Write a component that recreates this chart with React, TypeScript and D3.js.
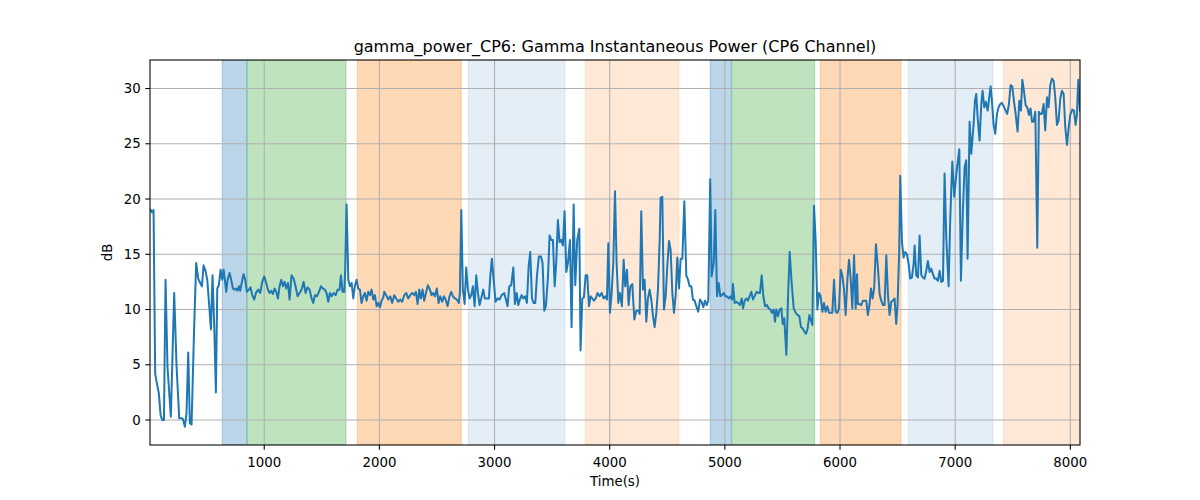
import React from 'react';
import * as d3 from 'd3';

// gamma power samples (seconds, dB)
const timeSec = [
  8, 25, 39, 53, 68, 85, 100, 114, 129, 143, 160, 189, 218, 239, 262, 282, 294, 311, 325, 340, 354, 369, 389, 409, 427, 444, 459, 473, 490, 505, 522, 537, 551, 566, 580, 592, 606, 621, 635, 647, 658, 670, 682, 699, 713, 728, 742, 757, 768, 780, 791, 806, 820, 835, 849, 867, 881, 896, 913, 928, 948, 965, 983, 1000, 1017,
  1032, 1046, 1061, 1075, 1090, 1104, 1119, 1133, 1148, 1162, 1177, 1191, 1206, 1220, 1237, 1255, 1272, 1290, 1307, 1324, 1342, 1359, 1376, 1394, 1411, 1426, 1440, 1457, 1475, 1492, 1510, 1527, 1541, 1556, 1570, 1585, 1602, 1620, 1637, 1654, 1666, 1680, 1695, 1703, 1715, 1730, 1744, 1759, 1773, 1787, 1802, 1816, 1831, 1845, 1860, 1874, 1889, 1903, 1918, 1932, 1947, 1961, 1976, 1990, 2005, 2019, 2034,
  2042, 2059, 2077, 2094, 2111, 2129, 2146, 2164, 2181, 2198, 2216, 2233, 2250, 2268, 2285, 2303, 2317, 2332, 2346, 2360, 2375, 2389, 2404, 2421, 2439, 2453, 2468, 2482, 2499, 2514, 2528, 2546, 2560, 2575, 2592, 2609, 2624, 2638, 2656, 2673, 2690, 2699, 2711, 2725, 2740, 2754, 2769, 2783, 2798, 2812, 2827, 2841, 2856, 2870, 2884, 2902, 2916, 2934, 2951, 2963, 2977, 2992, 3009, 3026, 3044, 3061,
  3084, 3099, 3113, 3128, 3145, 3163, 3177, 3192, 3206, 3220, 3235, 3249, 3267, 3281, 3296, 3310, 3325, 3339, 3354, 3368, 3385, 3403, 3417, 3432, 3446, 3464, 3478, 3493, 3507, 3522, 3536, 3550, 3565, 3579, 3594, 3608, 3623, 3637, 3655, 3669, 3687, 3701, 3718, 3736, 3747, 3762, 3776, 3791, 3805, 3820, 3834, 3849, 3863, 3878, 3895, 3912, 3930, 3947, 3962, 3976, 3988, 4002, 4017, 4031, 4046, 4060, 4075, 4089,
  4106, 4121, 4135, 4150, 4164, 4179, 4196, 4214, 4231, 4248, 4260, 4274, 4289, 4303, 4318, 4332, 4347, 4361, 4376, 4390, 4405, 4419, 4434, 4442, 4457, 4471, 4486, 4500, 4515, 4529, 4544, 4558, 4573, 4587, 4602, 4616, 4631, 4648, 4665, 4680, 4694, 4709, 4723, 4738, 4752, 4769, 4784, 4798, 4813, 4827, 4842, 4856, 4873, 4885, 4903, 4917, 4932, 4946, 4961, 4975, 4990, 5004, 5018, 5033, 5047, 5062, 5070, 5085, 5099, 5114,
  5131, 5146, 5158, 5172, 5186, 5201, 5215, 5230, 5244, 5262, 5276, 5291, 5305, 5320, 5334, 5349, 5366, 5381, 5395, 5409, 5424, 5435, 5447, 5462, 5476, 5491, 5502, 5516, 5534, 5548, 5563, 5580, 5598, 5615, 5632, 5647, 5661, 5676, 5690, 5705, 5719, 5734, 5748, 5760, 5774, 5789, 5803, 5818, 5832, 5847, 5861, 5875, 5890, 5904, 5919, 5933, 5948, 5962, 5977, 5991, 6006, 6020, 6035, 6049, 6064, 6078, 6093, 6107, 6122, 6136,
  6148, 6155, 6170, 6184, 6199, 6213, 6228, 6242, 6257, 6268, 6283, 6297, 6312, 6329, 6344, 6358, 6373, 6387, 6402, 6416, 6430, 6445, 6459, 6474, 6488, 6500, 6514, 6523, 6538, 6552, 6567, 6581, 6596, 6610, 6625, 6639, 6648, 6662, 6677, 6691, 6706, 6720, 6734, 6749, 6763, 6778, 6792, 6807, 6821, 6836, 6850, 6865, 6879, 6894, 6908, 6923, 6943, 6957, 6975, 6992, 7010, 7024, 7036, 7050, 7067, 7082, 7096, 7108, 7125, 7140,
  7160, 7172, 7183, 7195, 7212, 7227, 7238, 7253, 7267, 7282, 7296, 7308, 7319, 7334, 7348, 7363, 7377, 7392, 7406, 7421, 7438, 7452, 7467, 7481, 7496, 7510, 7525, 7542, 7557, 7571, 7583, 7597, 7612, 7626, 7641, 7655, 7667, 7681, 7696, 7713, 7727, 7739, 7753, 7768, 7782, 7797, 7811, 7826, 7840, 7855, 7869, 7884, 7898, 7913, 7927, 7942, 7956, 7971, 7985, 7999, 8017, 8031, 8046, 8057, 8069, 8084,
];

const gammaDb = [
  19.1, 18.8, 19.0, 4.2, 3.3, 2.4, 0.45, 0, 0, 12.7, 4.8, 0.3, 11.5, 4.8, 0.15, 0.15, 0.1, -0.6, 0.6, 6.1, -0.3, -0.4, 7.5, 14.2, 12.8, 12.4, 12.1, 14.0, 13.5, 12.7, 10.4, 8.2, 13.1, 8.4, 2.5, 11.9, 12.2, 13.6, 12.7, 13.6, 12.7, 11.6, 12.7, 13.3, 12.7, 11.9, 11.8, 11.9, 11.7, 12.1, 11.7, 12.5, 13.2, 12.7, 11.6, 11.8, 12.0, 11.3, 10.9, 11.5, 11.8, 11.5, 12.5, 13.0, 12.4,
  11.8, 11.5, 11.7, 11.4, 11.9, 11.6, 11.0, 12.1, 12.7, 12.1, 12.5, 11.9, 12.4, 10.9, 13.1, 12.8, 12.1, 11.2, 11.5, 11.8, 12.5, 11.5, 12.0, 11.8, 11.0, 10.6, 11.3, 11.2, 11.6, 12.1, 11.9, 11.8, 11.5, 10.7, 11.5, 11.2, 11.5, 11.3, 11.8, 11.8, 13.1, 11.6, 11.6, 13.6, 19.5, 12.7, 12.1, 12.4, 11.0, 12.1, 12.7, 11.9, 11.8, 10.6, 11.2, 11.5, 10.8, 11.6, 11.3, 11.8, 10.9, 11.3, 10.3, 10.6, 10.2, 10.8, 11.1,
  11.6, 11.3, 10.9, 11.2, 10.6, 11.3, 11.0, 10.7, 10.9, 10.7, 11.3, 11.5, 11.0, 11.3, 11.5, 11.3, 11.6, 10.5, 11.8, 11.0, 11.8, 10.8, 11.5, 12.2, 11.8, 11.3, 11.5, 11.2, 11.9, 10.6, 11.2, 10.7, 11.2, 10.9, 10.3, 11.2, 11.6, 11.2, 11.0, 10.9, 10.6, 11.5, 19.0, 11.8, 10.5, 13.8, 11.8, 11.0, 11.3, 12.1, 10.3, 13.1, 11.5, 10.4, 11.0, 11.8, 11.0, 11.0, 11.0, 13.0, 14.6, 12.7, 10.7, 11.0, 10.9, 11.3,
  11.5, 10.9, 10.3, 12.1, 12.2, 13.8, 10.5, 11.5, 10.4, 10.9, 11.3, 11.0, 11.2, 10.6, 13.9, 15.2, 11.0, 10.6, 10.6, 13.0, 14.8, 14.8, 14.2, 9.9, 10.3, 13.0, 16.7, 16.3, 16.3, 12.1, 14.3, 18.1, 16.1, 16.3, 15.8, 18.9, 13.4, 14.2, 16.3, 8.4, 19.5, 12.2, 16.3, 17.3, 6.3, 11.0, 11.1, 13.1, 13.1, 10.3, 11.2, 11.0, 10.8, 11.0, 11.5, 11.2, 11.5, 11.0, 11.2, 10.9, 16.0, 9.7, 11.5, 14.2, 20.7, 14.2, 10.6, 11.5,
  10.3, 14.5, 12.1, 13.6, 10.4, 12.1, 12.3, 9.1, 9.9, 9.9, 9.6, 18.9, 11.8, 12.7, 8.9, 11.0, 11.8, 10.9, 9.4, 8.4, 9.7, 11.8, 16.3, 20.1, 20.2, 10.0, 11.2, 13.9, 16.2, 15.4, 11.5, 9.7, 11.3, 14.7, 11.9, 14.6, 14.6, 19.8, 13.1, 12.7, 12.1, 12.1, 10.9, 10.8, 10.3, 9.8, 10.9, 10.7, 10.2, 10.8, 10.4, 10.8, 21.8, 13.0, 14.2, 19.0, 11.2, 12.4, 11.2, 11.3, 11.5, 11.2, 11.2, 11.0, 11.2, 10.9, 12.3, 10.6, 10.7, 10.6,
  10.4, 11.0, 10.1, 10.8, 11.0, 10.8, 11.2, 11.6, 10.9, 11.3, 11.6, 11.5, 11.5, 13.1, 11.2, 10.3, 10.4, 10.1, 10.0, 9.7, 10.0, 8.9, 10.0, 9.4, 10.0, 10.1, 8.7, 9.2, 5.9, 10.9, 15.2, 12.4, 10.1, 9.7, 9.5, 9.4, 8.4, 8.3, 8.0, 7.8, 8.3, 9.5, 9.0, 8.6, 19.4, 16.1, 10.0, 11.5, 11.2, 9.8, 10.6, 9.8, 10.3, 9.7, 9.7, 9.7, 12.7, 9.8, 9.7, 10.1, 13.6, 13.1, 11.8, 9.5, 12.7, 14.5, 12.7, 10.1, 14.9, 10.1,
  13.2, 10.5, 10.5, 10.4, 10.8, 10.8, 10.8, 9.5, 10.5, 11.9, 11.0, 12.0, 15.9, 13.8, 11.4, 10.8, 10.4, 10.4, 14.9, 11.4, 9.5, 10.7, 10.8, 11.0, 8.7, 10.5, 15.3, 22.1, 16.1, 14.7, 15.2, 15.0, 14.1, 12.8, 12.9, 14.1, 15.8, 13.1, 12.9, 16.7, 13.1, 12.9, 12.8, 13.5, 14.4, 13.4, 13.7, 13.2, 12.8, 12.8, 12.6, 13.5, 12.5, 12.6, 22.3, 16.4, 12.1, 18.1, 23.4, 20.2, 22.3, 23.5, 24.5, 12.6, 19.0, 22.9, 23.5, 14.6, 27.0, 24.1,
  26.8, 28.9, 29.5, 27.4, 25.3, 28.6, 29.8, 28.3, 28.8, 28.0, 29.2, 30.2, 28.9, 26.7, 25.9, 27.7, 28.3, 28.6, 28.7, 28.4, 28.0, 27.7, 28.6, 30.3, 30.2, 28.9, 27.7, 26.1, 28.9, 28.0, 30.8, 29.8, 28.5, 28.3, 27.6, 28.2, 27.0, 27.0, 27.9, 15.6, 27.9, 27.7, 27.7, 28.6, 26.2, 29.2, 28.3, 30.3, 30.9, 30.7, 29.2, 26.7, 27.1, 29.1, 29.8, 29.5, 26.5, 24.9, 26.4, 27.6, 28.1, 28.0, 26.7, 27.6, 30.8, 27.9,
];

// shaded phases
const spanStart = [635, 850, 1808, 2772, 3788, 4873, 5060, 5829, 6593, 7418];
const spanEnd = [850, 1710, 2711, 3611, 4601, 5056, 5779, 6530, 7329, 8200];
const spanKind = ['blue', 'green', 'orange', 'paleBlue', 'paleOrange', 'blue', 'green', 'orange', 'paleBlue', 'paleOrange'];

const xTicks = [1000, 2000, 3000, 4000, 5000, 6000, 7000, 8000];
const yTicks = [0, 5, 10, 15, 20, 25, 30];

const spanStyle: Record<string, { color: string; alpha: number }> = {
  blue: { color: '#1f77b4', alpha: 0.3 },
  green: { color: '#2ca02c', alpha: 0.3 },
  orange: { color: '#ff7f0e', alpha: 0.3 },
  paleBlue: { color: '#1f77b4', alpha: 0.12 },
  paleOrange: { color: '#ff7f0e', alpha: 0.17 },
};

const W = 1200;
const H = 500;
const margin = { left: 150, right: 120, top: 60, bottom: 55 };
const font = 'DejaVu Sans, sans-serif';

export default function App() {
  const innerW = W - margin.left - margin.right;
  const innerH = H - margin.top - margin.bottom;

  const x = d3.scaleLinear().domain([8, 8084]).range([0, innerW]);
  const y = d3.scaleLinear().domain([-2.26, 32.58]).range([innerH, 0]);

  const points = timeSec.map((t, i) => [t, gammaDb[i]] as [number, number]);
  const line = d3
    .line<[number, number]>()
    .x(d => x(d[0]))
    .y(d => y(d[1]));

  return (
    <svg
      width={W}
      height={H}
      style={{ position: 'absolute', left: 0, top: 0, background: '#fff' }}
      fontFamily={font}
    >
      <defs>
        <clipPath id="plotArea">
          <rect x={0} y={0} width={innerW} height={innerH} />
        </clipPath>
      </defs>
      <text x={margin.left + innerW / 2} y={52} textAnchor="middle" fontSize={16}>
        gamma_power_CP6: Gamma Instantaneous Power (CP6 Channel)
      </text>
      <g transform={`translate(${margin.left},${margin.top})`}>
        <g clipPath="url(#plotArea)">
          {spanStart.map((s, i) => {
            const st = spanStyle[spanKind[i]];
            return (
              <rect
                key={i}
                x={x(s)}
                y={0}
                width={x(spanEnd[i]) - x(s)}
                height={innerH}
                fill={st.color}
                fillOpacity={st.alpha}
                stroke={st.color}
                strokeOpacity={st.alpha}
                strokeWidth={1}
              />
            );
          })}
          {xTicks.map(t => (
            <line key={t} x1={x(t)} x2={x(t)} y1={0} y2={innerH} stroke="#b0b0b0" strokeWidth={1.07} />
          ))}
          {yTicks.map(t => (
            <line key={t} x1={0} x2={innerW} y1={y(t)} y2={y(t)} stroke="#b0b0b0" strokeWidth={1.07} />
          ))}
          <path d={line(points) || ''} fill="none" stroke="#1f77b4" strokeWidth={2} strokeLinejoin="round" />
        </g>
        <rect x={0} y={0} width={innerW} height={innerH} fill="none" stroke="#000" strokeWidth={1.07} />
        {xTicks.map(t => (
          <g key={t} transform={`translate(${x(t)},${innerH})`}>
            <line y1={0} y2={4.67} stroke="#000" strokeWidth={1.07} />
            <text y={21.5} textAnchor="middle" fontSize={13.33}>
              {t}
            </text>
          </g>
        ))}
        {yTicks.map(t => (
          <g key={t} transform={`translate(0,${y(t)})`}>
            <line x1={0} x2={-4.67} stroke="#000" strokeWidth={1.07} />
            <text x={-9.3} dy="0.35em" textAnchor="end" fontSize={13.33}>
              {t}
            </text>
          </g>
        ))}
        <text x={innerW / 2} y={innerH + 41} textAnchor="middle" fontSize={13.33}>
          Time(s)
        </text>
        <text transform={`translate(-38,${innerH / 2}) rotate(-90)`} textAnchor="middle" fontSize={13.33}>
          dB
        </text>
      </g>
    </svg>
  );
}
